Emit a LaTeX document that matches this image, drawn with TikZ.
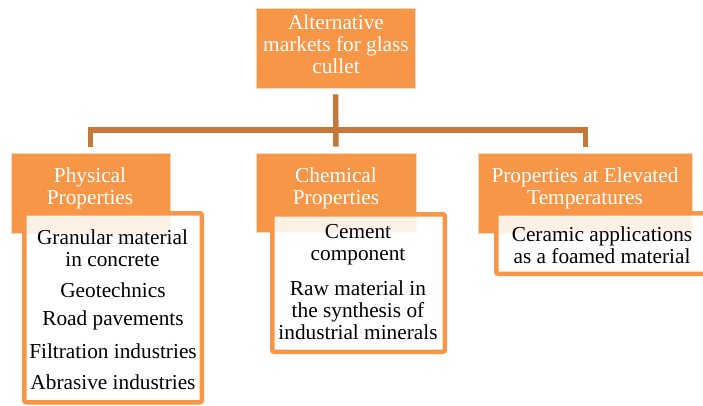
\documentclass[tikz,border=0pt]{standalone}
\usepackage{fontspec}
\setmainfont{Liberation Serif}
\definecolor{hdrorange}{RGB}{247,150,70}
\definecolor{connbrown}{RGB}{196,121,59}
\definecolor{hdredge}{RGB}{252,215,185}
\tikzset{
  hdrbox/.style={draw=hdredge, line width=0.8pt, fill=hdrorange, inner sep=0pt, anchor=center},
  hdrtext/.style={text=white, align=center, inner sep=0pt, font=\fontsize{21.3}{21.8}\selectfont},
  itembox/.style={draw=hdrorange, line width=4.5pt, fill=white, fill opacity=0.86, rounded corners=2pt},
  itemtext/.style={text=black, align=center, inner sep=0pt, font=\fontsize{21.3}{21.8}\selectfont},
  conn/.style={draw=connbrown, line width=5.5pt}
}
\begin{document}
\begin{tikzpicture}[x=1pt,y=-1pt]
\useasboundingbox (0,0) rectangle (703,405);
% top box
\node[hdrbox, minimum width=159pt, minimum height=80pt] (top) at (335.5,48) {};
\node[hdrtext] (topT) at (336,44) {Alternative\\markets for glass\\cullet};
% headers
\node[hdrbox, minimum width=159pt, minimum height=80pt] (phys) at (90.5,193) {};
\node[hdrbox, minimum width=160pt, minimum height=79pt] (chem) at (336,192.5) {};
\node[hdrbox, minimum width=214pt, minimum height=80pt] (elev) at (585,193) {};
% connectors
\coordinate (barL) at (88,130);
\coordinate (barR) at (588,130);
\coordinate (barPL) at (90.5,127.5);
\coordinate (barPR) at (585.5,127.5);
\draw[conn] (barL) -- (barR);
\draw[conn] ([yshift=-6pt]top.south) -- ([yshift=6pt]chem.north);
\draw[conn] (barPL) -- ([yshift=6pt]phys.north -| barPL);
\draw[conn] (barPR) -- ([yshift=6pt]elev.north -| barPR);
% header texts
\node[hdrtext] (physT) at (90,188) {Physical\\Properties};
\node[hdrtext] (chemT) at (336,188.5) {Chemical\\Properties};
\node[hdrtext] (elevT) at (585,188) {Properties at Elevated\\Temperatures};
% item boxes
\path[itembox] (24.25,213.25) rectangle (201.75,402.25);
\path[itembox] (272.25,214.25) rectangle (444.75,351.75);
\path[itembox] (496.25,213.25) rectangle (707.75,273.75);
% item texts
\node[itemtext] (p1) at (112.5,248.5) {Granular material\\in concrete};
\node[itemtext] (p2) at (113,290) {Geotechnics};
\node[itemtext] (p3) at (113,320) {Road pavements};
\node[itemtext] (p4) at (113,351) {Filtration industries};
\node[itemtext] (p5) at (113,382) {Abrasive industries};
\node[itemtext] (c1) at (358,245) {Cement\\component};
\node[itemtext] (c2) at (358,310) {Raw material in\\the synthesis of\\industrial minerals};
\node[itemtext] (e1) at (602,245.5) {Ceramic applications\\as a foamed material};
\end{tikzpicture}
\end{document}
